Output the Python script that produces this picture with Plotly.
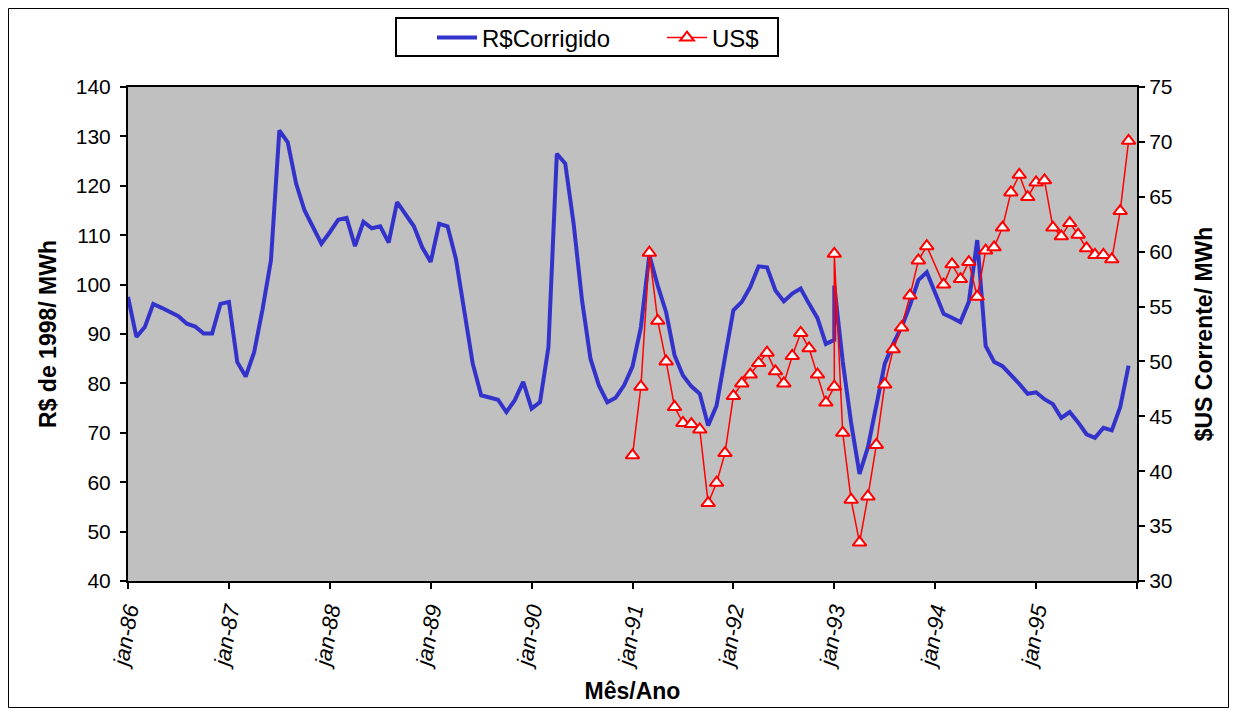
import plotly.graph_objects as go

# Month labels on the category axis (one per year)
tick_labels = ["jan-86", "jan-87", "jan-88", "jan-89", "jan-90",
               "jan-91", "jan-92", "jan-93", "jan-94", "jan-95", ""]

# Month index (0 = jan-86) where each observation is drawn in the source chart
# (the source date axis shows jan-93 twice and skips jan-94)
blue_month = list(range(0, 85)) + [84] + list(range(85, 96)) + list(range(97, 120))
red_month = list(range(60, 85)) + [84] + list(range(85, 96)) + list(range(97, 120))

# R$ de 1998 / MWh (left axis)
rs_corrigido = [
    97.5, 89.4, 91.4, 96.1, 95.3, 94.4, 93.6, 92.1, 91.5, 90.1, 90.1, 96.1,
    96.5, 84.3, 81.4, 86.3, 95.0, 104.9, 131.2, 128.8, 120.4, 115.0, 111.6, 108.3,
    110.6, 113.1, 113.5, 107.8, 112.7, 111.4, 111.8, 108.5, 116.7, 114.3, 111.8, 107.5,
    104.6, 112.3, 111.8, 105.2, 94.5, 84.0, 77.6, 77.2, 76.7, 74.2, 76.6, 80.3,
    74.9, 76.2, 87.3, 126.5, 124.5, 112.3, 96.8, 85.0, 79.6, 76.2, 77.1, 79.6,
    83.4, 91.4, 106.0, 99.8, 94.4, 85.7, 81.6, 79.4, 77.9, 71.5, 75.5, 85.3,
    94.8, 96.5, 99.5, 103.7, 103.5, 98.8, 96.6, 98.2, 99.2, 96.1, 93.2, 88.0,
    88.8, 99.8, 84.5, 72.0, 61.7, 67.1, 75.5, 84.0, 88.0, 91.4, 95.8, 100.9,
    102.5, 94.1, 93.3, 92.4, 96.5, 109.0, 87.6, 84.4, 83.5, 81.8, 79.9, 77.9,
    78.2, 76.8, 75.8, 73.0, 74.2, 72.1, 69.7, 69.0, 71.0, 70.5, 75.2, 83.6,
]

# $US corrente / MWh (right axis)
usd = [
    41.45, 47.7, 59.9, 53.7, 50.0, 45.85, 44.4, 44.3, 43.8, 37.1, 38.95, 41.65,
    46.85, 48.0, 48.8, 49.85, 50.8, 49.1, 48.0, 50.5, 52.6, 51.2, 48.8, 46.25,
    47.7, 59.8, 43.5, 37.4, 33.5, 37.7, 42.4, 47.9, 51.1, 53.1, 56.0, 59.2,
    60.5, 57.0, 58.85, 57.5, 59.05, 55.9, 60.1, 60.4, 62.2, 65.4, 67.0, 64.97,
    66.3, 66.5, 62.2, 61.4, 62.6, 61.55, 60.3, 59.7, 59.7, 59.3, 63.7, 70.1,
]

FONT = "Liberation Sans, Arial, sans-serif"

fig = go.Figure()
fig.add_trace(go.Scatter(
    x=blue_month, y=rs_corrigido, name="R$Corrigido", mode="lines",
    line=dict(color="#3333CC", width=4), legend="legend",
))
fig.add_trace(go.Scatter(
    x=red_month, y=usd, name="US$", mode="lines+markers", yaxis="y2",
    line=dict(color="#FF0000", width=1.5),
    marker=dict(symbol="triangle-up", size=12, color="white",
                line=dict(color="#FF0000", width=2)),
    legend="legend2",
))

# page offset of the figure inside the browser (default body margin)
OFF = 8
W, H = 1221, 700
L, R, T, B = 128 - OFF, 1137 - OFF, 87 - OFF, 581 - OFF
pw, ph = R - L, B - T


def px(xp):
    return (xp - OFF - L) / pw


def py(yp):
    return (B - (yp - OFF)) / ph


leg_common = dict(xanchor="left", yanchor="middle", bgcolor="rgba(0,0,0,0)",
                  borderwidth=0, font=dict(size=24, family=FONT), itemwidth=40)

fig.update_layout(
    width=W, height=H,
    margin=dict(l=L, r=W - R, t=T, b=H - B, pad=0, autoexpand=False),
    paper_bgcolor="white", plot_bgcolor="#C0C0C0",
    font=dict(family=FONT, color="black", size=21),
    showlegend=True,
    legend=dict(x=px(432), y=py(38), **leg_common),
    legend2=dict(x=px(662), y=py(38), **leg_common),
    xaxis=dict(range=[0, 120], tickmode="array",
               tickvals=[12 * i for i in range(len(tick_labels))],
               ticktext=tick_labels, tickangle=-80,
               tickfont=dict(size=22, style="italic", family=FONT),
               showline=True, linecolor="black", linewidth=2, mirror=True,
               ticks="outside", ticklen=6, tickwidth=2, tickcolor="black",
               showgrid=False, zeroline=False, automargin=False,
               title=dict(text="Mês/Ano", font=dict(size=23, weight="bold", family=FONT),
                          standoff=14)),
    yaxis=dict(range=[40, 140], dtick=10, tick0=40,
               showline=True, linecolor="black", linewidth=2,
               ticks="outside", ticklen=6, tickwidth=2, tickcolor="black",
               ticklabelstandoff=5, automargin=False,
               showgrid=False, zeroline=False,
               title=dict(text="R$ de 1998/ MWh", font=dict(size=23, weight="bold", family=FONT),
                          standoff=13)),
    yaxis2=dict(range=[30, 75], dtick=5, tick0=30, overlaying="y", side="right",
                showline=True, linecolor="black", linewidth=2,
                ticks="outside", ticklen=6, tickwidth=2, tickcolor="black",
                showgrid=False, zeroline=False, automargin=False,
                title=dict(text="$US Corrente/ MWh", font=dict(size=23, weight="bold", family=FONT),
                           standoff=24)),
    shapes=[
        dict(type="rect", xref="paper", yref="paper",
             x0=px(8.5), x1=px(1228.5), y0=py(707.5), y1=py(8.5),
             line=dict(color="black", width=1), fillcolor="rgba(0,0,0,0)",
             layer="below"),
        dict(type="rect", xref="paper", yref="paper",
             x0=px(396), x1=px(778), y0=py(56), y1=py(18),
             line=dict(color="black", width=2), fillcolor="white",
             layer="below"),
    ],
)

fig.write_html("out.html")
